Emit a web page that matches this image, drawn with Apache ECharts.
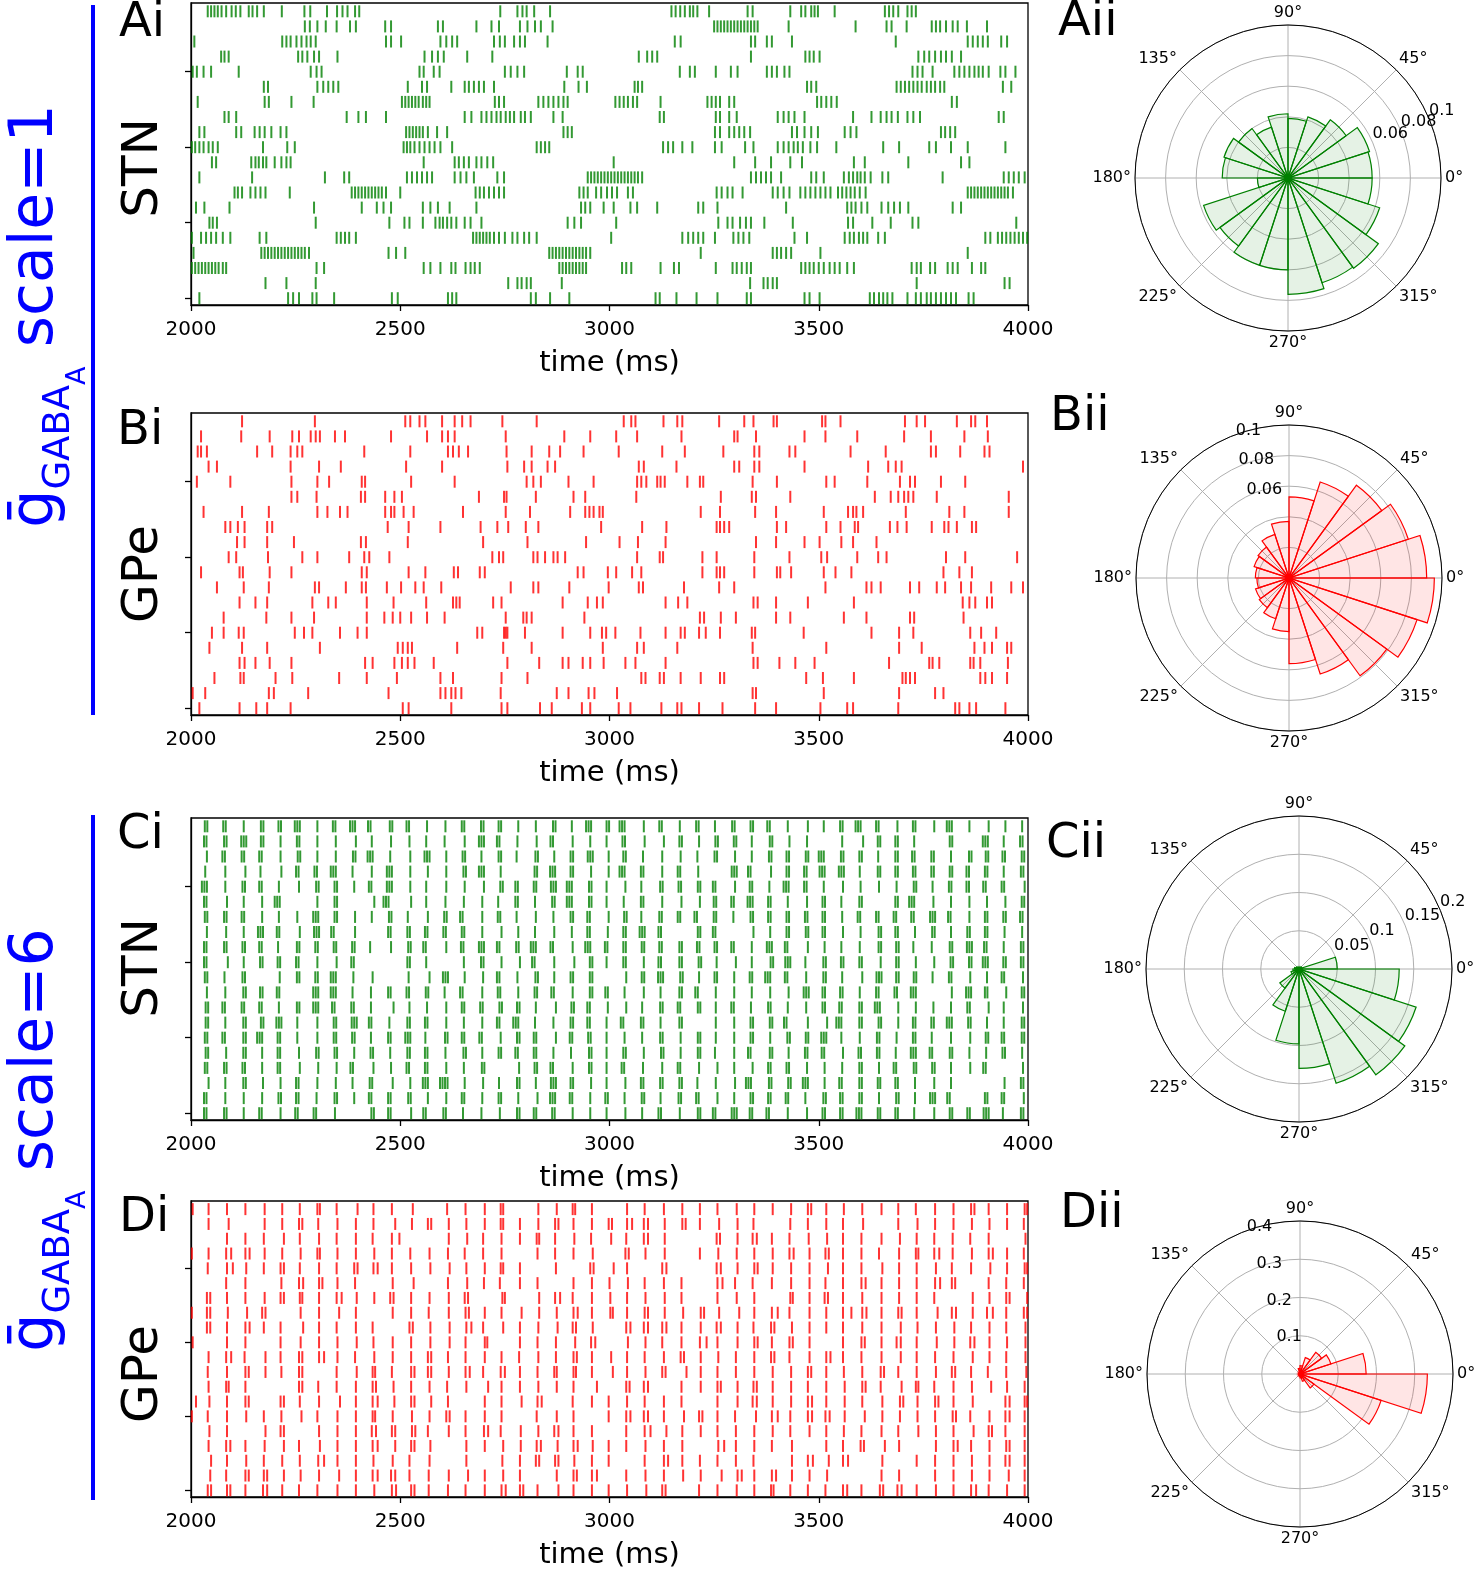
<!DOCTYPE html>
<html>
<head>
<meta charset="utf-8">
<script src="https://cdn.jsdelivr.net/npm/echarts@6/dist/echarts.min.js"></script>
<style>
  html, body { margin: 0; padding: 0; background: #fff; }
  #chart { width: 1478px; height: 1571px; }
</style>
</head>
<body>
<div id="chart"></div>
<script>
// spike times (ms), one list per neuron, listed top row (neuron 19) first
const stnLowRows = [
  [2040,2048,2056,2064,2073,2084,2097,2107,2118,2138,2147,2158,2174,2217,2271,2285,2325,2349,2362,2374,2392,2402,2739,2780,2792,2802,2820,2858,3148,3158,3169,3180,3192,3200,3210,3238,3330,3342,3432,3458,3468,3482,3490,3498,3538,3658,3668,3678,3690,3712,3722,3732],
  [2272,2284,2302,2322,2348,2380,2394,2464,2478,2590,2602,2682,2718,2736,2786,2804,2822,2836,2864,3250,3258,3266,3274,3282,3290,3298,3306,3314,3322,3330,3338,3346,3354,3428,3588,3662,3674,3710,3770,3780,3790,3804,3820,3832,3854,3902],
  [2008,2218,2228,2238,2252,2264,2276,2286,2298,2466,2478,2502,2596,2610,2624,2636,2724,2738,2750,2772,2786,2798,2852,3156,3170,3338,3348,3376,3388,3436,3684,3856,3868,3880,3892,3904,3936,3950],
  [2072,2080,2090,2256,2266,2278,2294,2306,2350,2558,2576,2590,2604,2660,2720,3070,3090,3102,3114,3338,3468,3478,3488,3502,3738,3752,3764,3778,3792,3804,3818,3840],
  [2004,2014,2030,2048,2114,2286,2300,2312,2546,2556,2580,2594,2750,2764,2780,2796,2898,2924,2936,3168,3192,3204,3254,3290,3306,3376,3388,3400,3418,3430,3724,3736,3748,3772,3824,3836,3848,3860,3872,3882,3892,3906,3934,3946,3970],
  [2174,2184,2302,2316,2328,2340,2352,2518,2552,2564,2622,2654,2664,2676,2688,2700,2724,2892,2926,2946,3060,3068,3078,3472,3482,3494,3686,3696,3706,3716,3726,3736,3746,3758,3768,3778,3790,3800,3940,3960],
  [2016,2176,2186,2240,2293,2504,2512,2520,2528,2536,2544,2554,2562,2570,2726,2736,2748,2830,2842,2854,2866,2878,2890,2900,3014,3024,3034,3044,3056,3066,3122,3234,3244,3254,3264,3286,3298,3496,3506,3518,3530,3543,3818,3830],
  [2080,2090,2108,2372,2400,2418,2466,2654,2670,2694,2706,2718,2730,2740,2752,2762,2772,2788,2798,2812,2866,2888,3120,3130,3254,3264,3286,3304,3402,3416,3428,3442,3466,3582,3626,3648,3662,3674,3689,3712,3726,3742,3930,3942],
  [2020,2032,2108,2120,2152,2164,2176,2192,2214,2228,2514,2522,2530,2538,2546,2554,2566,2588,2612,2890,2900,2910,3252,3264,3286,3298,3310,3322,3336,3436,3448,3466,3482,3498,3562,3576,3590,3792,3802,3814,3826],
  [2002,2010,2020,2030,2042,2052,2064,2172,2230,2248,2508,2516,2524,2534,2546,2558,2570,2582,2596,2624,2826,2836,2846,2856,3128,3140,3152,3174,3198,3252,3268,3324,3344,3402,3416,3428,3440,3450,3462,3480,3496,3542,3654,3692,3764,3780,3816,3856,3946],
  [2050,2060,2144,2154,2162,2172,2180,2200,2216,2228,2238,2556,2630,2640,2652,2664,2682,2694,2708,2722,3010,3298,3348,3386,3432,3460,3584,3610,3714,3840,3860],
  [2020,2146,2320,2366,2378,2516,2528,2540,2552,2564,2576,2630,2644,2658,2676,2732,2748,2948,2956,2964,2972,2980,2988,2996,3004,3012,3020,3028,3036,3044,3052,3060,3068,3078,3338,3350,3362,3374,3386,3410,3482,3494,3512,3560,3572,3582,3592,3600,3610,3624,3652,3666,3796,3942,3954,3966,3978,3992],
  [2104,2112,2122,2142,2154,2166,2178,2236,2384,2392,2400,2408,2416,2424,2432,2440,2448,2456,2466,2500,2680,2690,2700,2712,2724,2736,2748,2928,2938,2948,2968,2980,2994,3006,3018,3044,3056,3256,3268,3282,3294,3318,3390,3402,3416,3430,3456,3468,3480,3492,3504,3516,3528,3546,3556,3566,3576,3586,3598,3612,3856,3864,3872,3880,3888,3896,3904,3912,3920,3928,3936,3944,3952,3964],
  [2012,2032,2092,2294,2408,2444,2460,2478,2554,2572,2590,2618,2682,2932,2942,2954,2986,3010,3050,3066,3114,3212,3224,3258,3422,3568,3578,3588,3602,3616,3650,3666,3680,3694,3714,3820,3840],
  [2044,2052,2062,2298,2474,2510,2522,2554,2584,2594,2602,2612,2622,2634,2654,2668,2694,2900,2916,2932,3016,3260,3282,3294,3312,3326,3338,3370,3438,3570,3582,3628,3672,3724,3738,3972],
  [2002,2024,2036,2048,2060,2076,2094,2164,2180,2348,2358,2368,2378,2394,2674,2682,2690,2698,2706,2714,2724,2736,2750,2768,2780,2796,2808,2826,3004,3174,3188,3200,3212,3224,3252,3296,3308,3320,3334,3442,3472,3562,3574,3584,3596,3606,3616,3642,3658,3898,3910,3928,3938,3948,3958,3968,3978,3988,3998],
  [2006,2168,2176,2184,2192,2200,2208,2216,2224,2232,2240,2248,2256,2264,2272,2282,2472,2490,2512,2856,2864,2872,2880,2888,2896,2904,2912,2920,2928,2936,2944,2954,3218,3390,3400,3410,3422,3434,3504,3856],
  [2002,2010,2018,2026,2034,2042,2050,2058,2066,2076,2084,2300,2318,2556,2572,2596,2622,2632,2656,2668,2678,2690,2880,2888,2896,2904,2912,2920,2928,2936,2944,3030,3040,3052,3122,3154,3166,3254,3294,3304,3316,3328,3338,3458,3468,3478,3488,3500,3512,3526,3538,3550,3568,3584,3722,3734,3744,3766,3778,3808,3820,3832,3866,3888,3898],
  [2178,2228,2298,2758,2780,2790,2802,2812,2886,3336,3368,3378,3390,3400,3734,3944,3956],
  [2020,2232,2244,2258,2290,2300,2342,2480,2494,2614,2624,2634,2812,2824,2858,2904,3110,3120,3160,3208,3258,3328,3338,3466,3478,3502,3622,3632,3644,3654,3664,3676,3712,3732,3744,3758,3768,3780,3792,3804,3816,3828,3858,3870]
];

const gpeLowRows = [
  [2122,2296,2512,2524,2546,2560,2600,2630,2648,2668,2744,2826,3034,3052,3062,3129,3162,3174,3262,3322,3344,3392,3400,3508,3516,3552,3706,3734,3754,3830,3864,3874,3902],
  [2024,2120,2188,2242,2258,2286,2298,2308,2344,2368,2478,2564,2600,2614,2630,2752,2892,2954,3016,3066,3172,3298,3306,3350,3466,3516,3592,3704,3768,3848,3904],
  [2016,2024,2038,2158,2194,2238,2254,2266,2414,2524,2614,2626,2640,2662,2754,2814,2856,2882,2938,3022,3126,3180,3272,3346,3358,3430,3444,3576,3660,3768,3780,3838,3896,3908],
  [2042,2062,2238,2306,2358,2514,2600,2756,2796,2814,2852,2870,3070,3082,3160,3298,3310,3346,3358,3466,3618,3666,3684,3698,3988],
  [2014,2094,2240,2302,2330,2408,2416,2526,2630,2802,2818,2836,2902,2962,3066,3076,3088,3114,3122,3132,3186,3216,3224,3342,3400,3518,3538,3616,3694,3718,3730,3792,3850],
  [2240,2254,2300,2406,2416,2464,2486,2504,2688,2748,2754,2824,2914,2942,3064,3266,3340,3350,3432,3634,3672,3690,3704,3714,3726,3782,3954],
  [2030,2122,2186,2302,2326,2356,2374,2464,2478,2486,2508,2532,2650,2752,2810,2906,2942,2952,2962,2976,2984,3218,3264,3348,3398,3512,3570,3582,3590,3606,3708,3812,3848,3954],
  [2082,2094,2112,2128,2182,2194,2470,2520,2596,2692,2732,2758,2800,2830,2980,3078,3136,3256,3264,3274,3286,3400,3422,3518,3552,3586,3594,3670,3688,3710,3770,3800,3810,3830,3866,3876],
  [2110,2128,2182,2246,2406,2418,2518,2698,2804,2944,3024,3068,3134,3350,3398,3466,3502,3554,3582,3638],
  [2090,2108,2184,2266,2302,2378,2414,2426,2474,2720,2736,2746,2818,2828,2846,2866,2876,2894,3066,3120,3128,3222,3256,3346,3430,3506,3520,3592,3642,3662,3804,3850,3974],
  [2024,2116,2124,2188,2240,2408,2420,2520,2560,2628,2638,2690,2702,2924,2938,2996,3016,3054,3076,3222,3256,3264,3274,3346,3400,3408,3434,3512,3540,3578,3798,3836,3866],
  [2062,2126,2186,2296,2306,2370,2408,2418,2468,2502,2536,2556,2598,2764,2818,2830,2904,2998,3070,3080,3178,3262,3298,3516,3614,3626,3648,3718,3740,3782,3802,3840,3864,3912,3960,3988],
  [2116,2154,2182,2290,2328,2346,2420,2484,2562,2626,2634,2642,2722,2742,2888,2948,2970,2984,3134,3164,3186,3344,3354,3398,3474,3584,3844,3860,3874,3902,3914],
  [2078,2180,2240,2294,2420,2462,2482,2500,2526,2564,2606,2752,2794,2802,2814,2940,3216,3226,3266,3302,3398,3432,3560,3614,3718,3728,3846],
  [2050,2078,2114,2126,2248,2270,2290,2356,2398,2420,2684,2696,2748,2752,2756,2798,2888,2954,2982,2992,3014,3074,3134,3170,3180,3214,3230,3264,3340,3348,3464,3626,3692,3726,3862,3888,3924],
  [2044,2122,2182,2308,2494,2506,2518,2528,2636,2746,2814,2984,3066,3082,3162,3342,3518,3692,3746,3872,3896,3914,3950,3960],
  [2116,2128,2154,2188,2240,2416,2434,2486,2504,2518,2534,2580,2756,2832,2888,2902,2936,2954,2986,3038,3062,3134,3344,3354,3406,3444,3490,3668,3764,3772,3788,3862,3870,3886,3952],
  [2056,2118,2126,2202,2242,2354,2420,2492,2596,2626,2742,2804,3076,3086,3120,3130,3170,3218,3264,3274,3470,3510,3584,3700,3708,3718,3730,3886,3898,3914,3950],
  [2004,2034,2186,2198,2280,2472,2596,2608,2622,2632,2646,2740,2874,2902,2950,2964,3018,3342,3350,3512,3692,3778,3798],
  [2020,2116,2156,2182,2238,2506,2520,2622,2742,2756,2834,2862,2934,2954,3022,3050,3124,3162,3172,3214,3270,3348,3398,3504,3568,3582,3690,3826,3836,3860,3876,3946]
];

const stnHighRows = [
  [2033,2039,2077,2083,2126,2167,2173,2209,2215,2248,2254,2260,2302,2339,2345,2380,2386,2392,2423,2429,2475,2481,2515,2521,2564,2608,2647,2653,2693,2699,2735,2741,2782,2824,2865,2871,2910,2944,2950,2956,2993,2999,3024,3030,3036,3082,3119,3125,3168,3207,3213,3252,3293,3299,3337,3343,3377,3383,3426,3474,3512,3551,3557,3588,3594,3600,3637,3643,3688,3725,3731,3776,3806,3812,3818,3860,3906,3946,3986],
  [2031,2037,2079,2085,2120,2126,2132,2167,2173,2214,2253,2259,2302,2346,2394,2432,2478,2522,2562,2606,2654,2688,2694,2700,2731,2737,2780,2826,2859,2865,2912,2954,2993,3031,3037,3084,3130,3167,3173,3214,3253,3259,3297,3303,3340,3383,3389,3430,3472,3556,3606,3641,3647,3683,3689,3728,3813,3819,3892,3898,3904,3942,3981,3987],
  [2038,2075,2081,2121,2127,2163,2169,2214,2255,2261,2302,2346,2387,2393,2422,2428,2434,2476,2524,2558,2564,2570,2610,2649,2655,2694,2735,2741,2778,2823,2829,2868,2907,2913,2948,2954,2960,2998,3033,3039,3080,3126,3170,3210,3251,3257,3300,3340,3381,3387,3423,3429,3469,3475,3500,3506,3512,3553,3559,3597,3603,3642,3683,3689,3723,3729,3769,3775,3816,3859,3865,3899,3905,3939,3945,3985,3991],
  [2034,2082,2130,2166,2216,2251,2257,2295,2301,2334,2340,2346,2386,2432,2468,2474,2480,2524,2566,2610,2651,2657,2688,2694,2700,2740,2821,2827,2858,2864,2870,2907,2913,2956,2998,3024,3030,3036,3075,3081,3126,3163,3169,3212,3292,3298,3304,3331,3337,3386,3423,3429,3465,3471,3502,3508,3514,3548,3554,3560,3598,3641,3647,3683,3689,3725,3731,3769,3775,3813,3819,3853,3859,3897,3903,3942,3983,3989],
  [2026,2032,2038,2082,2123,2129,2163,2169,2210,2258,2299,2305,2343,2349,2390,2425,2431,2468,2474,2480,2524,2562,2610,2654,2700,2739,2745,2775,2781,2819,2825,2860,2866,2872,2898,2904,2910,2951,2957,2993,3038,3076,3121,3127,3165,3171,3211,3217,3247,3253,3300,3335,3341,3382,3416,3422,3428,3465,3471,3512,3558,3600,3644,3686,3727,3733,3772,3811,3817,3853,3859,3893,3899,3937,3943,3992],
  [2031,2037,2086,2126,2170,2200,2206,2212,2302,2343,2349,2438,2460,2466,2472,2526,2562,2608,2652,2696,2734,2775,2781,2822,2863,2869,2898,2904,2910,2951,2957,2993,3034,3075,3081,3126,3172,3216,3249,3255,3291,3297,3330,3336,3342,3379,3385,3426,3472,3509,3515,3554,3597,3603,3683,3689,3716,3722,3728,3774,3816,3860,3902,3946,3985,3991],
  [2033,2039,2079,2085,2121,2127,2170,2210,2254,2292,2298,2304,2343,2349,2392,2432,2473,2479,2518,2566,2605,2611,2643,2649,2696,2733,2739,2778,2824,2866,2907,2913,2947,2953,2998,3035,3041,3076,3119,3125,3163,3169,3203,3209,3249,3255,3296,3337,3343,3379,3385,3423,3429,3467,3473,3509,3515,3556,3593,3599,3637,3643,3679,3685,3721,3727,3766,3772,3778,3809,3815,3860,3897,3903,3941,3947,3981,3987],
  [2038,2084,2126,2160,2166,2172,2205,2211,2260,2294,2300,2306,2335,2341,2392,2471,2477,2517,2523,2559,2565,2603,2609,2647,2653,2696,2742,2782,2822,2868,2910,2947,2953,2996,3033,3039,3072,3078,3084,3117,3123,3211,3217,3247,3253,3344,3384,3423,3429,3469,3475,3509,3515,3558,3600,3643,3649,3683,3689,3730,3771,3777,3816,3855,3861,3897,3903,3944,3986],
  [2031,2037,2079,2085,2123,2129,2163,2169,2208,2253,2259,2297,2303,2341,2347,2385,2391,2428,2478,2519,2525,2555,2561,2610,2645,2651,2688,2694,2700,2731,2737,2777,2783,2812,2818,2824,2859,2865,2912,2942,2948,2954,2989,2995,3033,3039,3077,3083,3119,3125,3167,3173,3209,3215,3251,3257,3291,3297,3340,3376,3382,3388,3419,3425,3474,3514,3554,3598,3643,3649,3685,3691,3726,3770,3813,3819,3854,3860,3866,3895,3901,3942,3983,3989],
  [2031,2037,2088,2126,2165,2171,2207,2213,2251,2257,2302,2348,2383,2389,2517,2523,2562,2652,2693,2699,2742,2786,2815,2821,2868,2916,2953,2959,2993,3033,3039,3082,3117,3123,3167,3173,3213,3219,3256,3302,3340,3385,3391,3420,3426,3432,3468,3511,3517,3553,3559,3597,3603,3648,3685,3691,3732,3776,3815,3821,3859,3865,3892,3898,3904,3941,3947,3983,3989],
  [2033,2039,2080,2123,2129,2212,2253,2259,2297,2303,2334,2340,2346,2388,2434,2520,2570,2602,2608,2614,2654,2698,2731,2737,2780,2823,2829,2868,2907,2913,2953,2959,3040,3077,3083,3116,3122,3128,3169,3175,3214,3251,3257,3298,3335,3341,3372,3378,3384,3419,3425,3470,3511,3517,3556,3604,3638,3644,3650,3685,3691,3727,3733,3772,3811,3817,3862,3902,3937,3943,3988],
  [2038,2082,2125,2131,2165,2171,2205,2211,2292,2298,2304,2334,2340,2346,2386,2430,2471,2477,2515,2521,2561,2567,2606,2643,2649,2696,2733,2739,2782,2821,2827,2861,2867,2912,2953,2959,2990,2996,3036,3082,3122,3167,3173,3205,3211,3254,3298,3340,3384,3428,3464,3470,3476,3509,3515,3551,3557,3598,3637,3643,3681,3687,3720,3726,3732,3818,3852,3858,3864,3897,3903,3948,3985,3991],
  [2035,2041,2075,2081,2121,2127,2163,2169,2210,2253,2259,2292,2298,2304,2337,2343,2383,2389,2430,2484,2522,2564,2610,2647,2653,2691,2697,2737,2743,2779,2785,2824,2872,2909,2915,2947,2953,2996,3040,3078,3121,3127,3163,3169,3211,3217,3254,3291,3297,3338,3379,3385,3426,3470,3509,3515,3549,3555,3597,3603,3634,3640,3646,3690,3732,3774,3816,3855,3861,3906,3942,3988],
  [2035,2041,2082,2125,2131,2167,2173,2204,2210,2216,2254,2302,2341,2347,2384,2390,2396,2425,2431,2474,2517,2523,2559,2565,2610,2652,2696,2731,2737,2770,2776,2782,2822,2866,2907,2913,2947,2953,2993,3027,3033,3075,3081,3122,3167,3173,3254,3298,3337,3343,3383,3389,3417,3423,3474,3520,3542,3548,3554,3597,3603,3643,3649,3690,3725,3731,3769,3775,3806,3812,3818,3857,3863,3902,3942,3985,3991],
  [2033,2039,2075,2081,2125,2131,2158,2164,2170,2207,2213,2254,2302,2341,2347,2385,2391,2430,2471,2477,2512,2518,2524,2560,2607,2613,2647,2653,2689,2695,2740,2779,2785,2819,2825,2872,2905,2911,2949,2955,2993,3036,3078,3121,3127,3170,3211,3217,3254,3298,3337,3343,3384,3425,3431,3469,3475,3506,3512,3518,3554,3598,3639,3645,3686,3725,3731,3770,3816,3862,3899,3905,3937,3943,3985,3991],
  [2035,2041,2084,2125,2131,2170,2207,2213,2258,2299,2305,2343,2349,2390,2429,2435,2476,2517,2523,2559,2565,2608,2651,2657,2696,2735,2741,2775,2781,2819,2825,2866,2908,2951,2957,2993,3033,3039,3082,3123,3129,3170,3211,3217,3252,3298,3331,3337,3383,3389,3428,3467,3473,3507,3513,3558,3595,3601,3639,3645,3684,3720,3726,3732,3765,3771,3813,3819,3860,3900,3939,3945,3986],
  [2033,2039,2079,2085,2123,2129,2170,2207,2213,2260,2304,2348,2381,2387,2436,2478,2515,2521,2559,2565,2610,2652,2695,2701,2784,2821,2827,2859,2865,2912,2951,2957,2993,3029,3035,3080,3126,3163,3169,3214,3258,3298,3342,3379,3385,3423,3429,3472,3514,3556,3597,3603,3644,3679,3685,3727,3733,3771,3777,3816,3862,3893,3899,3988],
  [2042,2082,2125,2131,2172,2214,2251,2257,2302,2346,2386,2427,2433,2482,2524,2554,2560,2566,2595,2601,2607,2613,2654,2698,2736,2779,2785,2824,2860,2866,2872,2907,2913,2956,2993,3038,3075,3081,3121,3127,3167,3173,3210,3254,3300,3326,3332,3338,3381,3387,3427,3433,3462,3468,3474,3514,3549,3555,3597,3603,3641,3647,3683,3689,3730,3776,3816,3944,3983,3989],
  [2031,2037,2082,2126,2170,2209,2215,2251,2257,2300,2343,2349,2390,2425,2431,2471,2477,2519,2525,2566,2610,2647,2653,2696,2735,2741,2782,2828,2858,2864,2870,2905,2911,2954,2990,2996,3036,3077,3083,3122,3165,3171,3207,3213,3258,3298,3337,3343,3379,3385,3421,3427,3468,3511,3517,3551,3557,3597,3603,3644,3685,3691,3730,3766,3772,3778,3807,3813,3897,3903,3937,3943,3990],
  [2031,2037,2079,2085,2126,2163,2169,2214,2249,2255,2293,2299,2344,2431,2437,2471,2477,2526,2555,2561,2603,2609,2650,2694,2738,2779,2785,2819,2825,2863,2869,2912,2954,2993,3038,3078,3117,3123,3168,3211,3217,3247,3253,3292,3298,3304,3335,3341,3375,3381,3426,3472,3509,3515,3551,3557,3590,3596,3602,3641,3647,3683,3689,3728,3776,3813,3819,3855,3861,3894,3900,3906,3940,3983,3989]
];

const gpeHighRows = [
  [2004,2042,2086,2130,2176,2218,2260,2302,2308,2348,2398,2436,2480,2530,2612,2656,2702,2740,2746,2830,2874,2912,2918,2958,3042,3084,3130,3174,3216,3258,3304,3346,3390,3434,3474,3482,3518,3560,3604,3650,3690,3732,3778,3822,3864,3872,3906,3950,3992,3998],
  [2042,2090,2176,2218,2258,2266,2304,2350,2394,2436,2488,2528,2566,2574,2616,2658,2702,2740,2746,2786,2830,2870,2878,2914,2958,2998,3006,3042,3054,3082,3092,3132,3174,3182,3216,3262,3306,3344,3432,3474,3518,3558,3606,3690,3736,3778,3822,3866,3908,3950,3990],
  [2086,2130,2174,2222,2260,2306,2348,2394,2434,2480,2498,2616,2660,2698,2742,2786,2826,2832,2870,2916,2956,3004,3040,3082,3092,3132,3256,3264,3306,3342,3352,3388,3430,3476,3520,3558,3602,3650,3694,3734,3776,3820,3862,3906,3994],
  [2002,2042,2084,2096,2130,2140,2176,2218,2262,2302,2308,2350,2394,2438,2480,2524,2570,2614,2654,2698,2742,2828,2870,2914,2960,3038,3046,3086,3132,3216,3260,3304,3346,3390,3430,3440,3478,3516,3524,3558,3602,3644,3692,3732,3738,3776,3788,3820,3866,3906,3916,3950,3990],
  [2040,2086,2100,2132,2174,2214,2222,2260,2306,2348,2390,2398,2436,2446,2480,2526,2572,2618,2658,2702,2740,2746,2786,2872,2954,2962,3010,3042,3126,3136,3256,3266,3306,3346,3354,3390,3434,3478,3522,3558,3602,3652,3692,3734,3780,3818,3864,3910,3950,3992,3998],
  [2084,2130,2216,2258,2268,2306,2314,2350,2392,2482,2532,2614,2660,2700,2738,2786,2828,2914,2958,3000,3044,3084,3130,3172,3258,3270,3300,3342,3388,3434,3478,3516,3558,3602,3612,3650,3692,3734,3778,3790,3818,3826,3906,3948,3990],
  [2038,2046,2086,2130,2176,2214,2222,2260,2266,2306,2348,2360,2396,2438,2476,2484,2526,2570,2616,2654,2662,2744,2750,2832,2870,2882,2912,2958,3002,3042,3086,3132,3172,3258,3304,3346,3432,3438,3478,3514,3522,3558,3604,3650,3692,3734,3776,3868,3908,3948,3956,3998],
  [2002,2038,2046,2088,2134,2170,2178,2262,2306,2354,2394,2482,2526,2568,2616,2656,2664,2702,2742,2790,2832,2874,2914,2924,2958,3002,3008,3042,3084,3092,3132,3176,3218,3226,3262,3310,3346,3388,3402,3430,3478,3518,3558,3578,3604,3614,3650,3690,3698,3734,3784,3818,3828,3868,3902,3916,3948,3990,3998],
  [2038,2046,2086,2130,2140,2174,2214,2268,2306,2348,2394,2434,2522,2530,2572,2618,2658,2670,2698,2746,2786,2830,2876,2912,2920,2960,3040,3050,3082,3092,3126,3136,3172,3218,3256,3266,3306,3344,3386,3394,3436,3478,3518,3558,3604,3650,3696,3736,3780,3824,3864,3908,3948,3994],
  [2004,2086,2130,2214,2262,2306,2350,2396,2436,2482,2526,2572,2618,2656,2702,2708,2786,2828,2872,2918,2956,2966,3044,3086,3126,3172,3216,3232,3258,3306,3346,3354,3388,3430,3438,3478,3558,3602,3610,3650,3686,3696,3734,3782,3824,3862,3872,3908,3950,3994],
  [2042,2084,2096,2128,2178,2214,2258,2266,2306,2318,2350,2392,2438,2482,2526,2566,2574,2614,2656,2702,2742,2784,2830,2872,2914,2922,2958,3004,3042,3084,3130,3170,3178,3218,3260,3302,3346,3386,3394,3430,3478,3518,3528,3558,3602,3650,3696,3734,3778,3822,3868,3908,3948,3994],
  [2040,2086,2130,2138,2178,2216,2258,2266,2348,2396,2434,2440,2480,2526,2534,2566,2574,2616,2656,2666,2698,2740,2750,2786,2828,2868,2874,2914,2920,2958,3008,3042,3086,3126,3134,3184,3218,3258,3302,3346,3390,3434,3474,3482,3518,3560,3604,3648,3656,3690,3734,3780,3818,3826,3864,3904,3948,3996],
  [2042,2084,2090,2130,2258,2266,2304,2348,2394,2434,2442,2484,2526,2570,2612,2658,2710,2742,2786,2830,2874,2914,2970,3040,3048,3082,3092,3172,3218,3258,3266,3306,3344,3352,3390,3434,3474,3518,3562,3604,3612,3648,3698,3732,3738,3776,3822,3866,3912,3950,3992],
  [2012,2044,2086,2130,2138,2214,2222,2260,2306,2356,2394,2434,2446,2486,2526,2534,2574,2614,2702,2742,2790,2828,2838,2912,2958,2998,3042,3084,3130,3172,3258,3306,3342,3352,3390,3434,3474,3484,3518,3562,3604,3652,3694,3702,3736,3778,3786,3822,3868,3946,3956,3992,3998],
  [2002,2040,2086,2132,2174,2216,2264,2302,2350,2394,2434,2440,2482,2528,2570,2610,2618,2656,2702,2742,2826,2874,2914,2998,3040,3050,3082,3092,3130,3178,3214,3222,3258,3300,3350,3388,3402,3432,3474,3484,3516,3526,3562,3610,3652,3694,3736,3778,3820,3828,3862,3908,3946,3956,3992],
  [2044,2086,2178,2214,2222,2306,2350,2394,2432,2442,2480,2488,2528,2536,2566,2616,2656,2700,2710,2740,2788,2830,2868,2878,2914,2958,3040,3084,3098,3136,3174,3218,3258,3302,3346,3390,3432,3478,3518,3560,3602,3650,3690,3738,3780,3822,3870,3906,3914,3946,3992],
  [2042,2084,2094,2130,2176,2222,2258,2308,2350,2394,2434,2446,2488,2526,2534,2572,2658,2702,2746,2788,2826,2836,2876,2914,2924,2960,2998,3040,3086,3130,3174,3260,3274,3302,3346,3388,3436,3518,3558,3600,3608,3658,3692,3780,3822,3832,3864,3908,3948,3956,3992],
  [2048,2086,2132,2174,2218,2260,2304,2318,2350,2394,2436,2482,2522,2570,2658,2744,2786,2824,2832,2870,2878,2916,2958,2998,3084,3130,3140,3174,3216,3258,3302,3344,3436,3474,3486,3524,3558,3570,3652,3734,3778,3822,3866,3908,3946,3956,3992],
  [2046,2084,2130,2138,2174,2182,2222,2262,2306,2354,2394,2434,2446,2478,2488,2522,2568,2616,2662,2702,2746,2786,2874,2914,2922,2958,2970,3040,3086,3130,3176,3218,3268,3306,3316,3346,3388,3398,3436,3478,3520,3650,3692,3778,3822,3866,3908,3954,3992],
  [2040,2048,2086,2094,2130,2172,2182,2218,2258,2302,2350,2394,2438,2480,2490,2526,2534,2568,2614,2656,2702,2742,2752,2786,2794,2828,2878,2914,2958,2998,3042,3088,3126,3134,3214,3258,3304,3346,3386,3392,3432,3474,3516,3558,3568,3602,3646,3654,3688,3698,3734,3780,3822,3864,3876,3906,3950,3992]
];

const timeTicks = [2000, 2500, 3000, 3500, 4000];
const neuronTicks = [0, 5, 10, 15];

// phase histograms: 20 bins of 18 degrees, starting at 0 deg
const phaseBins = ['0','18','36','54','72','90','108','126','144','162','180','198','216','234','252','270','288','306','324','342'];
const phaseStnLow = [0.055,0.056,0.047,0.042,0.039,0.042,0.035,0.040,0.044,0.043,0.020,0.058,0.055,0.060,0.060,0.076,0.072,0.073,0.063,0.055];
const phaseGpeLow = [0.090,0.082,0.075,0.066,0.053,0.037,0.030,0.025,0.024,0.022,0.021,0.023,0.024,0.028,0.035,0.056,0.066,0.079,0.088,0.095];
const phaseStnHigh = [0.050,0.004,0.003,0.002,0.002,0.002,0.002,0.003,0.004,0.006,0.008,0.011,0.031,0.058,0.098,0.130,0.157,0.171,0.161,0.131];
const phaseGpeHigh = [0.173,0.085,0.070,0.045,0.022,0.015,0.004,0.003,0.002,0.002,0.002,0.002,0.003,0.004,0.006,0.010,0.020,0.045,0.223,0.333];
const ringLabelsLow = [0.06, 0.08, 0.1];
const ringLabelsStnHigh = [0.05, 0.1, 0.15, 0.2];
const ringLabelsGpeHigh = [0.1, 0.2, 0.3, 0.4];

const GREEN = '#008000';
const RED = '#ff0000';
const FONT = 'DejaVu Sans';

const rasters = [
  {rows: stnLowRows, color: GREEN, top: 3},
  {rows: gpeLowRows, color: RED, top: 413},
  {rows: stnHighRows, color: GREEN, top: 818},
  {rows: gpeHighRows, color: RED, top: 1201}
];

// ring labels sit left/bottom of the ray for A,C and centred on it for B,D
const roses = [
  {values: phaseStnLow, color: GREEN, fill: 'rgba(0,128,0,0.1)', center: [1288, 178], max: 0.1, step: 0.02, labels: ringLabelsLow, labelAngle: 22.5, align: 'left', vAlign: 'bottom'},
  {values: phaseGpeLow, color: RED, fill: 'rgba(255,0,0,0.1)', center: [1289, 578], max: 0.1, step: 0.02, labels: ringLabelsLow, labelAngle: 105, align: 'center', vAlign: 'middle'},
  {values: phaseStnHigh, color: GREEN, fill: 'rgba(0,128,0,0.1)', center: [1299, 969], max: 0.2, step: 0.05, labels: ringLabelsStnHigh, labelAngle: 22.5, align: 'left', vAlign: 'bottom'},
  {values: phaseGpeHigh, color: RED, fill: 'rgba(255,0,0,0.1)', center: [1300, 1374], max: 0.4, step: 0.1, labels: ringLabelsGpeHigh, labelAngle: 105, align: 'center', vAlign: 'middle'}
];

function spikePoints(rows) {
  const pts = [];
  rows.forEach((times, i) => {
    const neuron = rows.length - 1 - i;
    times.forEach(t => pts.push([t, neuron]));
  });
  return pts;
}

const grid = [], xAxis = [], yAxis = [], series = [];
rasters.forEach((r, i) => {
  grid.push({left: 191, top: r.top, width: 837, height: 302, show: true, borderColor: '#000', borderWidth: 1.3});
  xAxis.push({
    gridIndex: i, type: 'value', min: timeTicks[0], max: timeTicks[timeTicks.length - 1], interval: 500,
    axisLine: {onZero: false, lineStyle: {color: '#000', width: 1.3}},
    axisTick: {length: 6, lineStyle: {color: '#000', width: 1.3}},
    axisLabel: {fontSize: 20, color: '#000', margin: 15, fontFamily: FONT, formatter: v => String(v)},
    splitLine: {show: false},
    name: 'time (ms)', nameLocation: 'middle', nameGap: 44,
    nameTextStyle: {fontSize: 29, color: '#000', fontFamily: FONT}
  });
  yAxis.push({
    gridIndex: i, type: 'value', min: -0.45, max: 19.55,
    axisLine: {onZero: false, lineStyle: {color: '#000', width: 1.3}},
    axisTick: {length: 6, customValues: neuronTicks, lineStyle: {color: '#000', width: 1.3}},
    axisLabel: {show: false},
    splitLine: {show: false}
  });
  series.push({
    type: 'scatter', xAxisIndex: i, yAxisIndex: i,
    data: spikePoints(r.rows),
    symbol: 'rect', symbolSize: [2, 12],
    itemStyle: {color: r.color},
    silent: true, animation: false
  });
});

const polar = [], angleAxis = [], radiusAxis = [];
const fmtR = v => String(parseFloat(v.toFixed(3)));
const near = (a, b) => Math.abs(a - b) < 1e-9;

// ring-label layer: ECharts drops one of two overlapping end labels, so the
// outermost label gets a layer of its own
function ringLabelAxis(p, polarIndex, outerOnly) {
  return {
    polarIndex, type: 'value', min: 0, max: p.max, interval: p.step,
    axisLine: {show: false}, axisTick: {show: false}, splitLine: {show: false},
    axisLabel: {
      fontSize: 16, color: '#000', fontFamily: FONT, margin: 1,
      showMinLabel: false, showMaxLabel: outerOnly,
      align: p.align, verticalAlign: p.vAlign,
      formatter: v => {
        const show = outerOnly ? near(v, p.max) : (!near(v, p.max) && p.labels.some(l => near(l, v)));
        return show ? fmtR(v) : '';
      }
    }
  };
}

roses.forEach((p, k) => {
  const base = k * 4;
  // layer 0: bars + rings, 1: spokes + degree labels, 2: inner ring labels, 3: outer ring label
  for (let j = 0; j < 4; j++) polar.push({center: p.center, radius: 153});
  angleAxis.push({polarIndex: base, type: 'category', data: phaseBins, startAngle: 0, clockwise: false, show: false});
  radiusAxis.push({
    polarIndex: base, type: 'value', min: 0, max: p.max, interval: p.step,
    axisLine: {show: false}, axisTick: {show: false}, axisLabel: {show: false},
    splitLine: {show: true, lineStyle: {color: '#b0b0b0', width: 1}}
  });
  angleAxis.push({
    polarIndex: base + 1, type: 'value', min: 0, max: 360, interval: 45, startAngle: 0, clockwise: false,
    axisLine: {lineStyle: {color: '#000', width: 1}},
    axisTick: {show: false},
    axisLabel: {fontSize: 16, color: '#000', margin: 4, fontFamily: FONT, formatter: v => (v === 360 ? '' : v + '°')},
    splitLine: {show: true, lineStyle: {color: '#b0b0b0', width: 1}}
  });
  radiusAxis.push({polarIndex: base + 1, type: 'value', min: 0, max: 1, show: false});
  angleAxis.push({polarIndex: base + 2, type: 'value', min: 0, max: 360, startAngle: p.labelAngle, clockwise: false, show: false});
  radiusAxis.push(ringLabelAxis(p, base + 2, false));
  angleAxis.push({polarIndex: base + 3, type: 'value', min: 0, max: 360, startAngle: p.labelAngle, clockwise: false, show: false});
  radiusAxis.push(ringLabelAxis(p, base + 3, true));
  series.push({
    type: 'bar', coordinateSystem: 'polar', polarIndex: base,
    data: p.values, barCategoryGap: '0%',
    itemStyle: {color: p.fill, borderColor: p.color, borderWidth: 1.2},
    silent: true, animation: false
  });
});

const panelText = (text, x, y) => ({type: 'text', x, y, style: {text, fontSize: 48, fontFamily: FONT, fill: '#000', align: 'left', verticalAlign: 'middle'}});
const sideText = (text, x, y) => ({type: 'text', x, y, rotation: Math.PI / 2, style: {text, fontSize: 50, fontFamily: FONT, fill: '#000', align: 'center', verticalAlign: 'middle'}});
const gabaRich = {
  g: {fontSize: 60, fontFamily: FONT, fill: '#0000ff', verticalAlign: 'top', lineHeight: 70},
  s: {fontSize: 37, fontFamily: FONT, fill: '#0000ff', verticalAlign: 'top', padding: [35, 0, 0, 0], lineHeight: 70},
  ss: {fontSize: 27, fontFamily: FONT, fill: '#0000ff', verticalAlign: 'top', padding: [58, 0, 0, 0], lineHeight: 70},
  m: {fontSize: 60, fontFamily: FONT, fill: '#0000ff', verticalAlign: 'top', lineHeight: 70}
};
const gabaText = (scale, y) => ({
  type: 'text', x: 6, y, rotation: Math.PI / 2,
  style: {text: '{g|ḡ}{s|GABA}{ss|A}{m| scale=' + scale + '}', rich: gabaRich, align: 'center', verticalAlign: 'top'}
});

const graphic = [
  {type: 'line', shape: {x1: 93, y1: 5, x2: 93, y2: 715}, style: {stroke: '#0000ff', lineWidth: 4}},
  {type: 'line', shape: {x1: 93, y1: 815, x2: 93, y2: 1500}, style: {stroke: '#0000ff', lineWidth: 4}},
  gabaText(1, 316),
  gabaText(6, 1140),
  panelText('Ai', 119, 24), panelText('Bi', 117, 432), panelText('Ci', 117, 836), panelText('Di', 119, 1219),
  panelText('Aii', 1058, 23), panelText('Bii', 1050, 418), panelText('Cii', 1046, 845), panelText('Dii', 1060, 1215),
  sideText('STN', 144, 168), sideText('GPe', 144, 574), sideText('STN', 144, 968), sideText('GPe', 144, 1374)
];

const chart = echarts.init(document.getElementById('chart'), null, {renderer: 'canvas'});
chart.setOption({
  backgroundColor: '#fff',
  animation: false,
  textStyle: {fontFamily: FONT},
  grid, xAxis, yAxis, polar, angleAxis, radiusAxis, series, graphic
});
</script>
</body>
</html>
